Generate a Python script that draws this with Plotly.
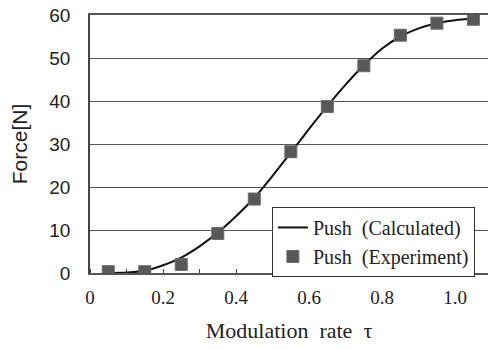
import plotly.graph_objects as go

# Experimental points (modulation rate tau, force in N)
exp_tau = [0.05, 0.15, 0.25, 0.35, 0.45, 0.55, 0.65, 0.75, 0.85, 0.95, 1.05]
exp_force = [0.3, 0.3, 2.0, 9.2, 17.2, 28.2, 38.7, 48.2, 55.3, 58.1, 59.0]

# Calculated curve
calc_tau = [0.05, 0.10, 0.15, 0.20, 0.25, 0.30, 0.35, 0.40, 0.45, 0.50, 0.55,
            0.60, 0.65, 0.70, 0.75, 0.80, 0.85, 0.90, 0.95, 1.00, 1.05]
calc_force = [0.0, 0.1, 0.5, 1.8, 3.6, 6.2, 9.4, 13.2, 17.5, 22.6, 28.0,
              33.5, 38.8, 43.8, 48.3, 52.2, 55.0, 56.9, 58.1, 58.8, 59.1]

x_tickvals = [0, 0.2, 0.4, 0.6, 0.8, 1.0]
x_ticktext = ["0", "0.2", "0.4", "0.6", "0.8", "1.0"]
y_tickvals = [0, 10, 20, 30, 40, 50, 60]

serif = "Liberation Serif, Times New Roman, serif"
sans = "Liberation Sans, Arial, sans-serif"

fig = go.Figure()
fig.add_trace(go.Scatter(
    x=calc_tau, y=calc_force, mode="lines", name="Push\u00a0 (Calculated)",
    line=dict(color="#111111", width=2, shape="spline", smoothing=0.8),
))
fig.add_trace(go.Scatter(
    x=exp_tau, y=exp_force, mode="markers", name="Push\u00a0 (Experiment)",
    marker=dict(symbol="square", size=12, color="#585858",
                line=dict(color="#6a6a6a", width=1)),
))

fig.update_layout(
    width=488, height=349,
    margin=dict(l=90, r=0, t=15, b=76, autoexpand=False),
    paper_bgcolor="white", plot_bgcolor="white",
    showlegend=True,
    legend=dict(
        x=0.457, y=0.256, xanchor="left", yanchor="top",
        bordercolor="#333333", borderwidth=1, bgcolor="white",
        font=dict(family=serif, size=20, color="#222222"),
        tracegroupgap=0, itemwidth=30,
    ),
    xaxis=dict(
        range=[0, 1.09], tickvals=x_tickvals, ticktext=x_ticktext,
        ticks="", showgrid=False, zeroline=False, automargin=False,
        showline=True, linecolor="#555555", linewidth=1.5, mirror=True,
        tickfont=dict(family=serif, size=19, color="#222222"),
        ticklabelstandoff=6, ticklabeloverflow="allow",
        minor=dict(ticks="inside", dtick=0.1, tick0=0, ticklen=4,
                   tickcolor="#444444", showgrid=False),
        title=dict(text="Modulation\u00a0 rate\u00a0 \u03c4",
                   font=dict(family=serif, size=22, color="#222222"),
                   standoff=16),
    ),
    yaxis=dict(
        range=[0, 60], tickvals=y_tickvals, ticks="", automargin=False,
        showgrid=True, gridcolor="#555555", gridwidth=1, zeroline=False,
        showline=True, linecolor="#444444", linewidth=1.5,
        tickfont=dict(family=sans, size=19, color="#222222"),
        ticklabelstandoff=14, ticklabeloverflow="allow",
        title=dict(text="Force[N]",
                   font=dict(family=sans, size=21, color="#222222"),
                   standoff=16),
    ),
)

# Remove the browser's default 8px body margin so the figure fills the window.
fig.write_html(
    "out.html",
    config={"displayModeBar": False},
    post_script="document.body.style.margin='0';document.body.style.overflow='hidden';",
)
